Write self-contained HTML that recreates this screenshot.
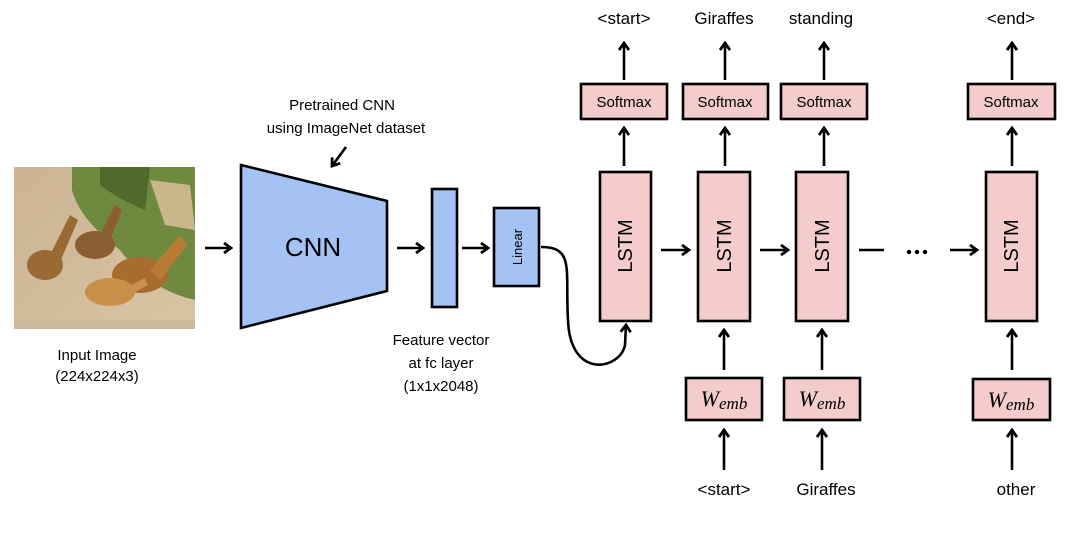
<!DOCTYPE html>
<html><head><meta charset="utf-8"><style>
html,body{margin:0;padding:0;background:#fff}
svg{display:block}
text{font-family:"Liberation Sans",sans-serif;fill:#000}
text.w{font-family:"Liberation Serif",serif;font-style:italic}
</style></head><body>
<svg width="1073" height="556" viewBox="0 0 1073 556" xmlns="http://www.w3.org/2000/svg">
<defs>
<marker id="a" markerWidth="12" markerHeight="12" refX="10" refY="6" orient="auto" markerUnits="userSpaceOnUse">
<path d="M3,1 L10,6 L3,11" fill="none" stroke="#000" stroke-width="2.8"/>
</marker>
<linearGradient id="g1" x1="0" y1="0" x2="1" y2="1">
<stop offset="0" stop-color="#cbb393"/><stop offset="1" stop-color="#d9c4a4"/></linearGradient>
</defs>
<g>
<rect x="14" y="167" width="181" height="162" fill="url(#g1)"/>
<path d="M72,167 L195,167 L195,300 Q150,290 120,250 Q80,220 72,190 Z" fill="#6f8a3f"/>
<path d="M100,167 L150,167 L145,210 Q120,200 100,185Z" fill="#4f6a2a"/>
<path d="M150,180 L190,185 L195,230 L165,225Z" fill="#c9b78a"/>
<ellipse cx="45" cy="265" rx="18" ry="15" fill="#9a6a35"/>
<path d="M50,255 L70,215 L78,220 L60,262Z" fill="#9a6a35"/>
<ellipse cx="95" cy="245" rx="20" ry="14" fill="#8a5e30"/>
<path d="M100,235 L115,205 L122,210 L108,245Z" fill="#8a5e30"/>
<ellipse cx="140" cy="275" rx="28" ry="18" fill="#a86c2e"/>
<path d="M150,270 L180,235 L187,245 L160,280Z" fill="#b87a35"/>
<ellipse cx="110" cy="292" rx="25" ry="14" fill="#c8904a"/>
<path d="M125,288 L145,278 L148,285 L128,296Z" fill="#c8904a"/>
<rect x="14" y="320" width="181" height="9" fill="#cdb89a"/>
</g>
<text x="97" y="360" font-size="15" text-anchor="middle">Input Image</text>
<text x="97" y="381" font-size="15" text-anchor="middle">(224x224x3)</text>

<g stroke="#000" stroke-width="2.6" fill="none">
<line x1="205" y1="248" x2="231" y2="248" marker-end="url(#a)"/>
<line x1="397" y1="248" x2="423" y2="248" marker-end="url(#a)"/>
<line x1="462" y1="248" x2="488" y2="248" marker-end="url(#a)"/>
<line x1="346" y1="147" x2="332" y2="166" marker-end="url(#a)"/>
<path d="M541,247 C575,247 565,270 568,320 C570,380 620,370 625,345 L626,325" marker-end="url(#a)"/>
</g>
<polygon points="241,165 387,201 387,291 241,328" fill="#a4c2f4" stroke="#000" stroke-width="2.6"/>
<text x="313" y="256" font-size="26" text-anchor="middle">CNN</text>
<text x="342" y="110" font-size="15" text-anchor="middle">Pretrained CNN</text>
<text x="346" y="133" font-size="15" text-anchor="middle">using ImageNet dataset</text>
<rect x="432" y="189" width="25" height="118" fill="#a4c2f4" stroke="#000" stroke-width="2.6"/>
<rect x="494" y="208" width="45" height="78" fill="#a4c2f4" stroke="#000" stroke-width="2.6"/>
<text transform="translate(522,247) rotate(-90)" font-size="13" text-anchor="middle">Linear</text>
<text x="441" y="345" font-size="15" text-anchor="middle">Feature vector</text>
<text x="441" y="368" font-size="15" text-anchor="middle">at fc layer</text>
<text x="441" y="391" font-size="15" text-anchor="middle">(1x1x2048)</text>

<rect x="581" y="84" width="86" height="35" fill="#f4cccc" stroke="#000" stroke-width="2.6"/>
<text x="624" y="107" font-size="15" text-anchor="middle">Softmax</text>
<rect x="600" y="172" width="51" height="149" fill="#f4cccc" stroke="#000" stroke-width="2.6"/>
<text transform="translate(632,246) rotate(-90)" font-size="20" text-anchor="middle">LSTM</text>
<text x="624" y="24" font-size="17" text-anchor="middle">&lt;start&gt;</text>

<rect x="683" y="84" width="85" height="35" fill="#f4cccc" stroke="#000" stroke-width="2.6"/>
<text x="725" y="107" font-size="15" text-anchor="middle">Softmax</text>
<rect x="698" y="172" width="52" height="149" fill="#f4cccc" stroke="#000" stroke-width="2.6"/>
<text transform="translate(731,246) rotate(-90)" font-size="20" text-anchor="middle">LSTM</text>
<rect x="686" y="378" width="76" height="42" fill="#f4cccc" stroke="#000" stroke-width="2.6"/>
<text class="w" x="724" y="406" font-size="22" text-anchor="middle">W<tspan font-size="17" dy="3">emb</tspan></text>
<text x="724" y="24" font-size="17" text-anchor="middle">Giraffes</text>
<text x="724" y="495" font-size="17" text-anchor="middle">&lt;start&gt;</text>

<rect x="781" y="84" width="86" height="35" fill="#f4cccc" stroke="#000" stroke-width="2.6"/>
<text x="824" y="107" font-size="15" text-anchor="middle">Softmax</text>
<rect x="796" y="172" width="52" height="149" fill="#f4cccc" stroke="#000" stroke-width="2.6"/>
<text transform="translate(829,246) rotate(-90)" font-size="20" text-anchor="middle">LSTM</text>
<rect x="784" y="378" width="76" height="42" fill="#f4cccc" stroke="#000" stroke-width="2.6"/>
<text class="w" x="822" y="406" font-size="22" text-anchor="middle">W<tspan font-size="17" dy="3">emb</tspan></text>
<text x="821" y="24" font-size="17" text-anchor="middle">standing</text>
<text x="826" y="495" font-size="17" text-anchor="middle">Giraffes</text>

<rect x="968" y="84" width="87" height="35" fill="#f4cccc" stroke="#000" stroke-width="2.6"/>
<text x="1011" y="107" font-size="15" text-anchor="middle">Softmax</text>
<rect x="986" y="172" width="51" height="149" fill="#f4cccc" stroke="#000" stroke-width="2.6"/>
<text transform="translate(1018,246) rotate(-90)" font-size="20" text-anchor="middle">LSTM</text>
<rect x="973" y="379" width="77" height="41" fill="#f4cccc" stroke="#000" stroke-width="2.6"/>
<text class="w" x="1011" y="407" font-size="22" text-anchor="middle">W<tspan font-size="17" dy="3">emb</tspan></text>
<text x="1011" y="24" font-size="17" text-anchor="middle">&lt;end&gt;</text>
<text x="1016" y="495" font-size="17" text-anchor="middle">other</text>

<g stroke="#000" stroke-width="2.6" fill="none">
<line x1="624" y1="80" x2="624" y2="43" marker-end="url(#a)"/>
<line x1="725" y1="80" x2="725" y2="43" marker-end="url(#a)"/>
<line x1="824" y1="80" x2="824" y2="43" marker-end="url(#a)"/>
<line x1="1012" y1="80" x2="1012" y2="43" marker-end="url(#a)"/>
<line x1="624" y1="166" x2="624" y2="128" marker-end="url(#a)"/>
<line x1="725" y1="166" x2="725" y2="128" marker-end="url(#a)"/>
<line x1="824" y1="166" x2="824" y2="128" marker-end="url(#a)"/>
<line x1="1012" y1="166" x2="1012" y2="128" marker-end="url(#a)"/>
<line x1="724" y1="370" x2="724" y2="330" marker-end="url(#a)"/>
<line x1="822" y1="370" x2="822" y2="330" marker-end="url(#a)"/>
<line x1="1012" y1="370" x2="1012" y2="330" marker-end="url(#a)"/>
<line x1="724" y1="470" x2="724" y2="430" marker-end="url(#a)"/>
<line x1="822" y1="470" x2="822" y2="430" marker-end="url(#a)"/>
<line x1="1012" y1="470" x2="1012" y2="430" marker-end="url(#a)"/>
<line x1="661" y1="250" x2="689" y2="250" marker-end="url(#a)"/>
<line x1="760" y1="250" x2="788" y2="250" marker-end="url(#a)"/>
<line x1="859" y1="250" x2="884" y2="250"/>
<line x1="950" y1="250" x2="977" y2="250" marker-end="url(#a)"/>
</g>
<circle cx="909" cy="252" r="2.2"/><circle cx="917" cy="252" r="2.2"/><circle cx="925" cy="252" r="2.2"/>
</svg>
</body></html>
